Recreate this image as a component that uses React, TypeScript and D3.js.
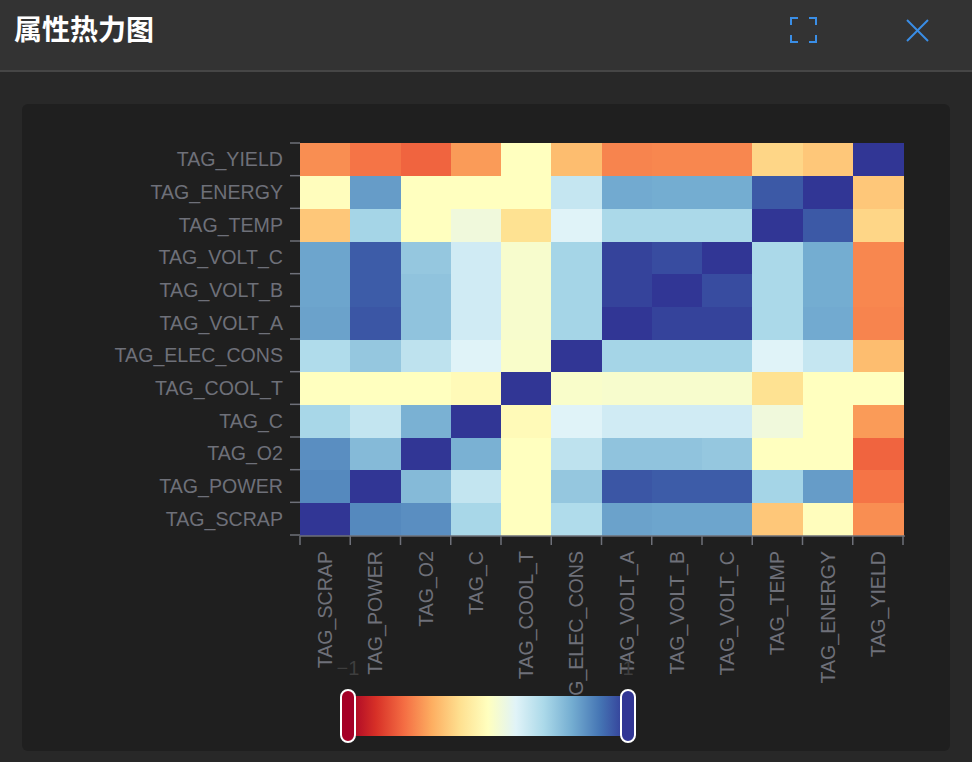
import React from 'react';
import * as d3 from 'd3';

const categories = ['TAG_SCRAP', 'TAG_POWER', 'TAG_O2', 'TAG_C', 'TAG_COOL_T', 'TAG_ELEC_CONS', 'TAG_VOLT_A', 'TAG_VOLT_B', 'TAG_VOLT_C', 'TAG_TEMP', 'TAG_ENERGY', 'TAG_YIELD'];

const rowScrap = [1, 0.73, 0.71, 0.41, 0.0, 0.38, 0.64, 0.63, 0.63, -0.3, -0.01, -0.5];
const rowPower = [0.73, 1, 0.54, 0.31, 0.0, 0.48, 0.9, 0.88, 0.88, 0.42, 0.66, -0.58];
const rowO2 = [0.71, 0.54, 1, 0.58, 0.0, 0.33, 0.5, 0.5, 0.48, 0.0, 0.0, -0.63];
const rowC = [0.41, 0.31, 0.58, 1, -0.03, 0.2, 0.26, 0.26, 0.26, 0.1, 0.0, -0.46];
const rowCoolT = [0.0, 0.0, 0.0, -0.03, 1, 0.04, 0.05, 0.05, 0.05, -0.19, 0.0, 0.0];
const rowElecCons = [0.38, 0.48, 0.33, 0.2, 0.04, 1, 0.42, 0.42, 0.42, 0.2, 0.3, -0.34];
const rowVoltA = [0.64, 0.9, 0.5, 0.26, 0.05, 0.42, 1, 0.96, 0.96, 0.4, 0.61, -0.53];
const rowVoltB = [0.63, 0.88, 0.5, 0.26, 0.05, 0.42, 0.96, 1, 0.93, 0.4, 0.6, -0.52];
const rowVoltC = [0.63, 0.88, 0.48, 0.26, 0.05, 0.42, 0.96, 0.93, 1, 0.4, 0.6, -0.52];
const rowTemp = [-0.3, 0.42, 0.0, 0.1, -0.19, 0.2, 0.4, 0.4, 0.4, 1, 0.89, -0.24];
const rowEnergy = [-0.01, 0.66, 0.0, 0.0, 0.0, 0.3, 0.61, 0.6, 0.6, 0.89, 1, -0.3];
const rowYield = [-0.5, -0.58, -0.63, -0.46, 0.0, -0.34, -0.53, -0.52, -0.52, -0.24, -0.3, 1];

const matrix = [rowScrap, rowPower, rowO2, rowC, rowCoolT, rowElecCons, rowVoltA, rowVoltB, rowVoltC, rowTemp, rowEnergy, rowYield];

const colorStops = ['#a50026', '#d73027', '#f46d43', '#fdae61', '#fee090', '#ffffbf', '#e0f3f8', '#abd9e9', '#74add1', '#4575b4', '#313695'];
const rangeMin = -1;
const rangeMax = 1;

export default function App() {
  const W = 972;
  const H = 762;
  const grid = { left: 300, right: 903, top: 143, bottom: 535 };

  const x = d3.scaleBand<string>().domain(categories).range([grid.left, grid.right]).padding(0);
  const y = d3.scaleBand<string>().domain(categories).range([grid.bottom, grid.top]).padding(0);

  const color = d3
    .scaleLinear<string>()
    .domain(colorStops.map((_, i) => rangeMin + (i * (rangeMax - rangeMin)) / (colorStops.length - 1)))
    .range(colorStops)
    .interpolate(d3.interpolateRgb)
    .clamp(true);

  const cells: { r: string; c: string; v: number }[] = [];
  matrix.forEach((row, ri) => row.forEach((v, ci) => cells.push({ r: categories[ri], c: categories[ci], v })));

  const boundaries = d3.range(categories.length + 1);
  const bw = x.bandwidth();
  const bh = y.bandwidth();

  const vm = { x0: 348, x1: 628, top: 696, h: 40 };
  const vmScale = d3.scaleLinear().domain([rangeMin, rangeMax]).range([vm.x0, vm.x1]);

  const labelFont = '"Liberation Sans", Arial, Helvetica, sans-serif';
  const axisColor = '#6e7079';
  const labelSize = 19.6;

  return (
    <svg width={W} height={H} style={{ position: 'absolute', left: 0, top: 0 }} xmlns="http://www.w3.org/2000/svg">
      <defs>
        <linearGradient id="vmGrad" x1="0" x2="1" y1="0" y2="0">
          {colorStops.map((c, i) => (
            <stop key={i} offset={`${(i / (colorStops.length - 1)) * 100}%`} stopColor={c} />
          ))}
        </linearGradient>
      </defs>
      <rect x={0} y={0} width={W} height={H} fill="#282828" />
      <rect x={0} y={0} width={W} height={70} fill="#333333" />
      <rect x={0} y={70} width={W} height={2} fill="#464646" />
      <text x={14} y={40} fill="#ffffff" fontSize={28} fontWeight="bold" fontFamily='"Noto Sans CJK SC", sans-serif'>
        属性热力图
      </text>
      {/* fullscreen icon */}
      <g stroke="#3a8ee6" strokeWidth={2} fill="none">
        <path d="M791,25 V18 H798" />
        <path d="M809,18 H816 V25" />
        <path d="M816,35 V42 H809" />
        <path d="M798,42 H791 V35" />
        <path d="M907,20 L928,41" />
        <path d="M928,20 L907,41" />
      </g>
      <rect x={22} y={104} width={928} height={647} rx={6} fill="#1f1f1f" />

      {/* cells */}
      {cells.map((d, i) => (
        <rect key={i} x={x(d.c)} y={y(d.r)} width={bw + 0.6} height={bh + 0.6} fill={color(d.v)} shapeRendering="crispEdges" />
      ))}

      {/* y axis ticks */}
      {boundaries.map((i) => {
        const yy = grid.bottom - i * bh;
        return <line key={'yt' + i} x1={290} x2={300} y1={yy} y2={yy} stroke={axisColor} strokeWidth={1.5} />;
      })}
      {categories.map((c) => (
        <text key={'yl' + c} x={283} y={(y(c) as number) + bh / 2} textAnchor="end" dominantBaseline="central" fill={axisColor} fontSize={labelSize} fontFamily={labelFont}>
          {c}
        </text>
      ))}

      {/* x axis */}
      <line x1={grid.left} x2={grid.right + 2} y1={grid.bottom + 1} y2={grid.bottom + 1} stroke={axisColor} strokeWidth={1.5} />
      {boundaries.map((i) => {
        const xx = grid.left + i * bw;
        return <line key={'xt' + i} x1={xx} x2={xx} y1={grid.bottom + 1} y2={grid.bottom + 10} stroke={axisColor} strokeWidth={1.5} />;
      })}
      {categories.map((c) => {
        const cx = (x(c) as number) + bw / 2;
        const ty = 551;
        return (
          <text key={'xl' + c} transform={`translate(${cx},${ty}) rotate(-90)`} textAnchor="end" dominantBaseline="central" fill={axisColor} fontSize={labelSize} fontFamily={labelFont}>
            {c}
          </text>
        );
      })}

      {/* visual map */}
      <text x={vmScale(rangeMin)} y={668} textAnchor="middle" dominantBaseline="central" fill="#3e3e3e" fontSize={20} fontFamily={labelFont}>
        {String(rangeMin).replace('-', '\u2212')}
      </text>
      <text x={vmScale(rangeMax)} y={668} textAnchor="middle" dominantBaseline="central" fill="#3e3e3e" fontSize={20} fontFamily={labelFont}>
        {String(rangeMax)}
      </text>
      <rect x={vm.x0} y={vm.top} width={vm.x1 - vm.x0} height={vm.h} fill="url(#vmGrad)" />
      <rect x={vmScale(rangeMin) - 7} y={690} width={14} height={52} rx={7} fill={color(rangeMin)} stroke="#ffffff" strokeWidth={2} />
      <rect x={vmScale(rangeMax) - 7} y={690} width={14} height={52} rx={7} fill={color(rangeMax)} stroke="#ffffff" strokeWidth={2} />
    </svg>
  );
}
